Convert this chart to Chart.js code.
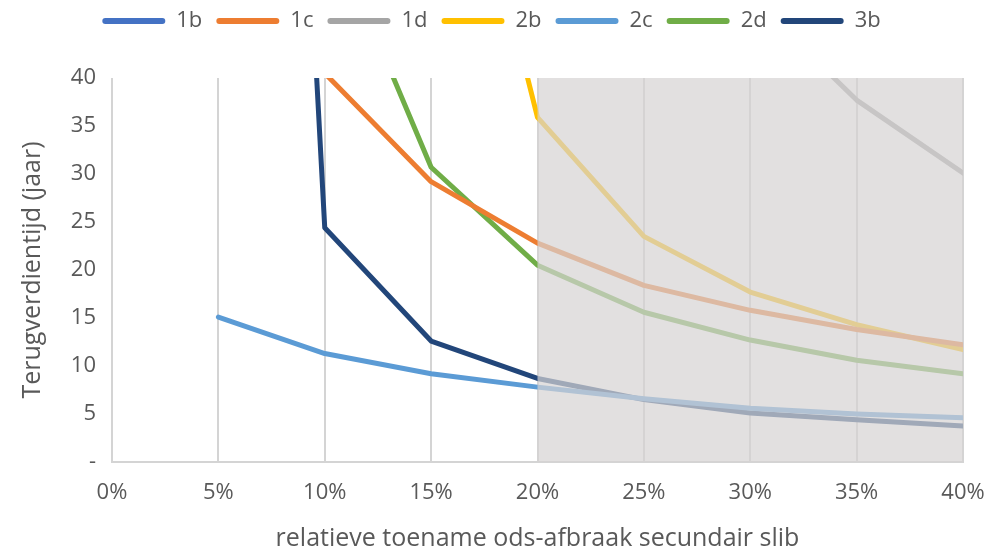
<!DOCTYPE html>
<html>
<head>
<meta charset="utf-8">
<script src="https://cdn.jsdelivr.net/npm/chart.js@4/dist/chart.umd.min.js"></script>
<style>
  html, body { margin: 0; padding: 0; background: #fff; }
  #wrap { width: 995px; height: 551px; }
</style>
</head>
<body>
<div id="wrap"><canvas id="paybackChart" width="995" height="551"></canvas></div>
<script>
// ===== data =====
const categories = ["0%", "5%", "10%", "15%", "20%", "25%", "30%", "35%", "40%"];

const s1b = [null, null, null, null, null, null, null, null, null];
const s1c = [null, null, 40.5, 29.2, 22.8, 18.4, 15.8, 13.8, 12.2];
const s1d = [null, null, null, null, null, null, 48.5, 37.7, 30.1];
const s2b = [null, null, null, 80, 35.9, 23.5, 17.7, 14.3, 11.7];
const s2c = [null, 15.1, 11.3, 9.2, 7.8, 6.6, 5.6, 5.0, 4.6];
const s2d = [null, null, 57, 30.7, 20.5, 15.6, 12.7, 10.6, 9.2];
const s3b = [null, 230, 24.4, 12.6, 8.7, 6.5, 5.1, 4.4, 3.75];

const yTicks = [0, 5, 10, 15, 20, 25, 30, 35, 40];

// grijze zone vanaf 20% t/m 40%
const shadeFrom = "20%";
const shadeTo = "40%";

const FONT = "'Open Sans', 'Liberation Sans', sans-serif";
const TXT = "#595959";

function line(label, data, color) {
  return {
    label,
    data,
    borderColor: color,
    backgroundColor: color,
    borderWidth: 5,
    pointRadius: 0,
    tension: 0,
    clip: 0,
    borderCapStyle: "round",
    borderJoinStyle: "round",
  };
}

// grijs vlak over de lijnen heen
const shadePlugin = {
  id: "shade",
  afterDatasetsDraw(chart) {
    const { ctx, chartArea, scales } = chart;
    const x0 = scales.x.getPixelForValue(categories.indexOf(shadeFrom));
    const x1 = scales.x.getPixelForValue(categories.indexOf(shadeTo));
    ctx.save();
    ctx.fillStyle = "rgba(214,211,211,0.7)";
    ctx.fillRect(x0, chartArea.top, x1 - x0, chartArea.bottom - chartArea.top);
    ctx.restore();
  },
};

// vaste hoogte voor de legende, en iets hoger tekenen
const legendHeight = {
  id: "legendHeight",
  beforeInit(chart) {
    const lg = chart.legend;
    const fit = lg.fit;
    lg.fit = function () {
      fit.bind(lg)();
      this.height = 78;
    };
    const draw = lg.draw;
    lg.draw = function () {
      const ctx = this.ctx;
      ctx.save();
      ctx.translate(0, -4);
      draw.apply(this, arguments);
      ctx.restore();
    };
  },
};

new Chart(document.getElementById("paybackChart"), {
  type: "line",
  data: {
    labels: categories,
    datasets: [
      line("1b", s1b, "#4472C4"),
      line("1c", s1c, "#ED7D31"),
      line("1d", s1d, "#A5A5A5"),
      line("2b", s2b, "#FFC000"),
      line("2c", s2c, "#5B9BD5"),
      line("2d", s2d, "#70AD47"),
      line("3b", s3b, "#22467A"),
    ],
  },
  options: {
    responsive: false,
    animation: false,
    layout: { padding: { left: 20, right: 32, top: 0, bottom: 0 } },
    plugins: {
      tooltip: { enabled: false },
      legend: {
        position: "top",
        labels: {
          color: TXT,
          font: { family: FONT, size: 22 },
          boxWidth: 63,
          boxHeight: 6,
          padding: 14,
          generateLabels(chart) {
            const items = Chart.defaults.plugins.legend.labels.generateLabels(chart);
            items.forEach((it) => {
              it.lineWidth = 0;
              it.fillStyle = it.strokeStyle;
              it.borderRadius = 3;
            });
            return items;
          },
          useBorderRadius: true,
          borderRadius: 3,
        },
      },
    },
    scales: {
      x: {
        type: "category",
        offset: false,
        grid: { display: true, color: "#d4d4d4", lineWidth: 2, drawTicks: false },
        border: { display: true, color: "#d4d4d4", width: 2 },
        ticks: { color: TXT, font: { family: FONT, size: 22 }, padding: 18, maxRotation: 0 },
        title: {
          display: true,
          text: "relatieve toename ods-afbraak secundair slib",
          color: TXT,
          font: { family: FONT, size: 25, lineHeight: 1 },
          padding: 0,
        },
        afterFit(scale) {
          scale.height = 89;
          scale.paddingLeft = 0;
          scale.paddingRight = 0;
        },
      },
      y: {
        min: 0,
        max: 40,
        grid: { display: false, drawTicks: false },
        border: { display: false },
        afterBuildTicks(scale) { scale.ticks = yTicks.map((v) => ({ value: v })); },
        ticks: {
          color: TXT,
          font: { family: FONT, size: 22 },
          padding: 16,
          callback: (v) => (v === 0 ? "-" : v),
        },
        title: {
          display: true,
          text: "Terugverdientijd (jaar)",
          color: TXT,
          font: { family: FONT, size: 25, lineHeight: 1 },
          padding: 0,
        },
        afterFit(scale) { scale.width = 92; },
      },
    },
  },
  plugins: [shadePlugin, legendHeight],
});
</script>
</body>
</html>
